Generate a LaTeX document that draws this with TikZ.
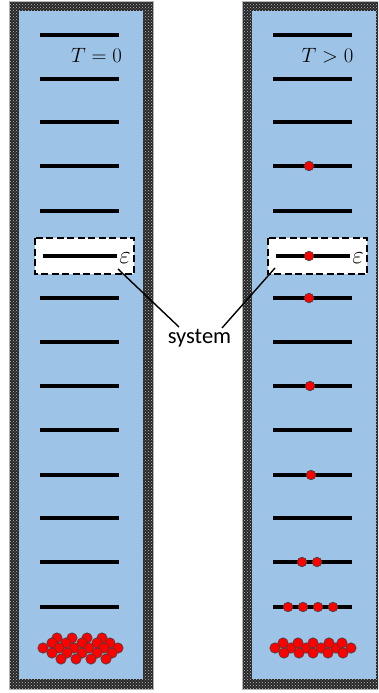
\documentclass[tikz,border=0pt]{standalone}
\usepackage{fontspec}
\newfontfamily\labelfont{Carlito}
\usetikzlibrary{patterns}
\definecolor{wellblue}{RGB}{157,195,230}
\definecolor{ballred}{RGB}{255,0,0}
\tikzset{
  wall/.style={fill=black!85, draw=black!30, line width=0.8pt},
  wallgrain/.style={pattern=crosshatch dots, pattern color=black!25},
  well/.style={fill=wellblue},
  level/.style={line width=3.6pt},
  ball/.style={fill=ballred, draw=black!75, line width=0.6pt},
  sysbox/.style={fill=white, draw=black, dash pattern=on 7pt off 3.5pt, line width=2.6pt},
  lead/.style={line width=1.4pt},
  temp/.style={anchor=base, inner sep=0pt, font=\fontsize{22}{22}\selectfont},
  eps/.style={anchor=base, inner sep=0pt, font=\fontsize{25}{25}\selectfont},
  syslabel/.style={anchor=base, inner sep=0pt, font=\labelfont\fontsize{22.5}{22.5}\selectfont},
}
\begin{document}
\begin{tikzpicture}[x=1pt,y=-1pt]
\useasboundingbox (0,0) rectangle (378,693);
\clip (0,0) rectangle (378,693);

% the two containers with their ladders of levels
\foreach \dx in {0,233} {
  \begin{scope}[xshift=\dx pt]
    \path[wall] (9,1) rectangle (153,689);
    \path[wallgrain] (9,1) rectangle (153,689);
    \path[well] (19,11) rectangle (143,679);
    \foreach \y in {35,79,122,166,211,298,342,386,430,475,518,562,607}
      \draw[level] (40,\y) -- (119,\y);
    \path[sysbox] (35,238) rectangle (134,274);
    \draw[level] (43,256) -- (117,256);
  \end{scope}
}

% temperature labels
\node[temp] (tzero) at (96.5,63) {$T=0$};
\node[temp] (tpos) at (327.5,63) {$T>0$};

% level energy of the system
\node[eps] (epsL) at (125,263) {$\varepsilon$};
\node[eps] (epsR) at (358,263) {$\varepsilon$};

% occupied levels at T > 0
\foreach \x/\y in {309/166, 309/256, 309/298, 310/386, 311/475,
                   302/562, 317/562,
                   288/607, 303/607, 318/607, 333/607}
  \path[ball] (\x,\y) circle (4.8);

% ground state, T = 0
\foreach \x/\y in {57/638, 72/638, 87/638, 102/638,
                   52/643, 66/643, 82/643, 97/643, 110/643,
                   43/648, 59/648, 74/648, 89/648, 104/648, 118/648,
                   52/653, 67/653, 82/653, 97/653, 112/653,
                   61/659, 76/659, 91/659, 106/659}
  \path[ball] (\x,\y) circle (5.2);

% ground state, T > 0
\foreach \x/\y in {275/648, 291/648, 306/648, 321/648, 336/648, 351/648,
                   283/643, 298/643, 313/643, 329/643, 342/643,
                   284/653, 299/653, 313/653, 328/653, 343/653}
  \path[ball] (\x,\y) circle (5.2);

% label and leads to the two system boxes
\node[syslabel] (system) at (199.5,343) {system};
\coordinate (leadL) at (118,269);
\coordinate (leadR) at (275,268);
\coordinate (sysL) at (179,327);
\coordinate (sysR) at (222,328);
\draw[lead] (leadL) -- (sysL);
\draw[lead] (leadR) -- (sysR);
\end{tikzpicture}
\end{document}
